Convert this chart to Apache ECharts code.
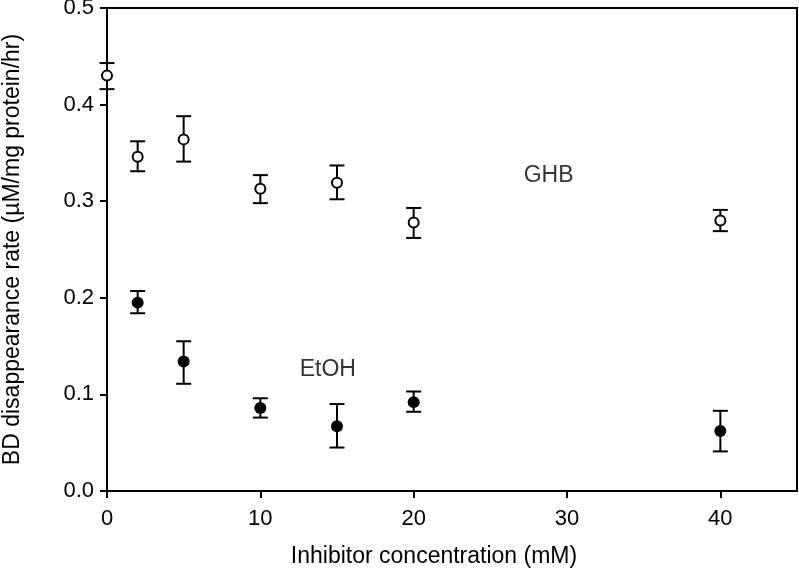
<!DOCTYPE html>
<html>
<head>
<meta charset="utf-8">
<script src="https://cdn.jsdelivr.net/npm/echarts@6/dist/echarts.min.js"></script>
<style>
html,body{margin:0;padding:0;background:#fff;}
#chart{width:799px;height:569px;}
</style>
</head>
<body>
<div id="chart"></div>
<script>
// Inhibitor concentration (mM)
var concentrations = [0, 2, 5, 10, 15, 20, 40];
// GHB (open circles)
var ghbMean = [0.430, 0.346, 0.364, 0.313, 0.319, 0.278, 0.280];
var ghbLow  = [0.416, 0.331, 0.341, 0.298, 0.302, 0.262, 0.269];
var ghbHigh = [0.443, 0.362, 0.388, 0.327, 0.337, 0.293, 0.291];
// EtOH (filled circles), no x=0 point
var etohX    = [2, 5, 10, 15, 20, 40];
var etohMean = [0.195, 0.134, 0.086, 0.067, 0.092, 0.062];
var etohLow  = [0.184, 0.111, 0.076, 0.045, 0.082, 0.041];
var etohHigh = [0.207, 0.155, 0.096, 0.090, 0.103, 0.083];
// annotation labels
var annotations = [
  {name: 'GHB', x: 28.8, y: 0.326},
  {name: 'EtOH', x: 14.4, y: 0.126}
];

var FONT = 'Liberation Sans, Arial, sans-serif';

function pairs(xs, ys) { return xs.map(function (x, i) { return [x, ys[i]]; }); }
function errData(xs, lo, hi) { return xs.map(function (x, i) { return [x, lo[i], hi[i]]; }); }

function renderErr(params, api) {
  var x = api.value(0);
  var lo = api.coord([x, api.value(1)]);
  var hi = api.coord([x, api.value(2)]);
  var hw = 7.5;
  var style = {stroke: '#000', lineWidth: 2, fill: null};
  return {
    type: 'group',
    children: [
      {type: 'line', shape: {x1: lo[0], y1: lo[1], x2: hi[0], y2: hi[1]}, style: style},
      {type: 'line', shape: {x1: lo[0] - hw, y1: lo[1], x2: lo[0] + hw, y2: lo[1]}, style: style},
      {type: 'line', shape: {x1: hi[0] - hw, y1: hi[1], x2: hi[0] + hw, y2: hi[1]}, style: style}
    ]
  };
}

var chart = echarts.init(document.getElementById('chart'), null, {renderer: 'canvas'});
chart.setOption({
  backgroundColor: '#fff',
  animation: false,
  grid: {left: 107, right: 2, top: 8, bottom: 78, containLabel: false, outerBoundsMode: 'none',
    show: true, borderColor: '#000', borderWidth: 2, backgroundColor: 'transparent'},
  xAxis: {
    type: 'value', min: 0, max: 45, interval: 10,
    name: 'Inhibitor concentration (mM)', nameLocation: 'middle', nameGap: 54,
    nameTextStyle: {fontFamily: FONT, fontSize: 23, color: '#000', padding: [0, 36, 0, 0]},
    axisLine: {show: true, onZero: false, lineStyle: {color: '#000', width: 2}},
    axisTick: {show: true, inside: false, length: 7, lineStyle: {color: '#000', width: 2}},
    axisLabel: {fontFamily: FONT, fontSize: 22, color: '#000', margin: 17, showMaxLabel: false},
    splitLine: {show: false}
  },
  yAxis: {
    type: 'value', min: 0, max: 0.5, interval: 0.1,
    name: 'BD disappearance rate (\u00b5M/mg protein/hr)', nameLocation: 'middle', nameGap: 83,
    nameTextStyle: {fontFamily: FONT, fontSize: 23, color: '#000'},
    axisLine: {show: true, onZero: false, lineStyle: {color: '#000', width: 2}},
    axisTick: {show: true, inside: false, length: 7, lineStyle: {color: '#000', width: 2}},
    axisLabel: {fontFamily: FONT, fontSize: 22, color: '#000', margin: 13,
      formatter: function (v) { return v.toFixed(1); }},
    splitLine: {show: false}
  },
  series: [
    {type: 'custom', name: 'GHB err', renderItem: renderErr, data: errData(concentrations, ghbLow, ghbHigh), z: 2, silent: true},
    {type: 'custom', name: 'EtOH err', renderItem: renderErr, data: errData(etohX, etohLow, etohHigh), z: 2, silent: true},
    {type: 'scatter', name: 'GHB', data: pairs(concentrations, ghbMean), symbol: 'circle', symbolSize: 10,
      itemStyle: {color: '#fff', borderColor: '#000', borderWidth: 2, opacity: 1}, z: 5},
    {type: 'scatter', name: 'EtOH', data: pairs(etohX, etohMean), symbol: 'circle', symbolSize: 12,
      itemStyle: {color: '#000', borderColor: '#000', borderWidth: 0, opacity: 1}, z: 5},
    {type: 'scatter', name: 'labels', symbolSize: 0, silent: true,
      data: annotations.map(function (a) { return {value: [a.x, a.y], name: a.name}; }),
      label: {show: true, position: 'inside', formatter: '{b}', fontFamily: FONT, fontSize: 23, color: '#000', textBorderWidth: 0}, z: 6}
  ]
});
</script>
</body>
</html>
